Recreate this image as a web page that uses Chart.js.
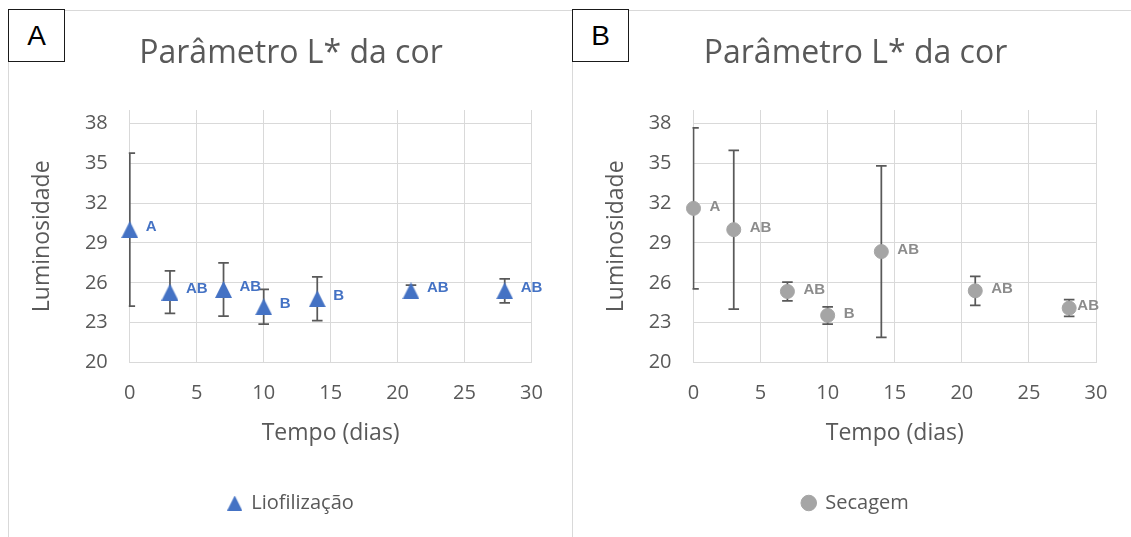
<!DOCTYPE html>
<html><head><meta charset="utf-8">
<script src="https://cdn.jsdelivr.net/npm/chart.js@4.4.0/dist/chart.umd.min.js"></script>
<style>
html,body{margin:0;padding:0;background:#fff;width:1131px;height:537px;overflow:hidden;font-family:'Open Sans',sans-serif;}
.frame{position:absolute;border-left:1px solid #d9d9d9;border-top:1px solid #d9d9d9;}
.tag{position:absolute;background:#fff;border:1px solid #1a1a1a;box-sizing:border-box;font-family:'Liberation Sans',Arial,sans-serif;font-size:28px;color:#000;display:flex;align-items:center;justify-content:center;}
.wrap{position:absolute;top:0;height:537px;}
canvas{display:block;}
</style></head><body>
<div class="frame" style="left:8px;top:10px;width:564px;height:600px"></div>
<div class="frame" style="left:572px;top:10px;width:600px;height:600px"></div>
<div class="wrap" style="left:0;width:582px"><canvas id="cA" width="582" height="537"></canvas></div>
<div class="wrap" style="left:580px;width:551px"><canvas id="cB" width="551" height="537"></canvas></div>
<div class="tag" style="left:8px;top:9px;width:57px;height:53px">A</div>
<div class="tag" style="left:572px;top:9px;width:57px;height:53px">B</div>
<script>
// ---- data ----
const days = [0, 3, 7, 10, 14, 21, 28];
const liofMean = [30.0, 25.3, 25.5, 24.2, 24.8, 25.4, 25.4];
const liofErr = [5.75, 1.6, 2.0, 1.3, 1.65, 0.42, 0.9];
const liofLetters = ['A', 'AB', 'AB', 'B', 'B', 'AB', 'AB'];
const secMean = [31.6, 30.0, 25.35, 23.55, 28.35, 25.4, 24.1];
const secErr = [6.05, 5.97, 0.7, 0.65, 6.45, 1.09, 0.63];
const secLetters = ['A', 'AB', 'AB', 'B', 'AB', 'AB', 'AB'];
const xTicks = [0, 5, 10, 15, 20, 25, 30];
const yTicks = [20, 23, 26, 29, 32, 35, 38];
const chartTitle = 'Parâmetro L* da cor';
const xTitle = 'Tempo (dias)';
const yTitle = 'Luminosidade';
const seriesA = 'Liofilização';
const seriesB = 'Secagem';

Chart.defaults.devicePixelRatio = 1;
const TXT = '#595959', GRID = '#d9d9d9', FONT = "'Open Sans', sans-serif";

function triangleImg(w, h, color) {
  const c = document.createElement('canvas');
  c.width = w; c.height = h;
  const g = c.getContext('2d');
  g.fillStyle = color;
  g.beginPath(); g.moveTo(w / 2, 0); g.lineTo(w, h); g.lineTo(0, h); g.closePath(); g.fill();
  return c;
}

const annot = {
  id: 'annot',
  beforeDatasetsDraw(chart) {
    const {ctx, chartArea: a, scales: {x, y}} = chart;
    ctx.save();
    ctx.beginPath(); ctx.rect(a.left - 1, 0, a.right - a.left + 2, chart.height); ctx.clip();
    ctx.strokeStyle = '#595959'; ctx.lineWidth = 1.75;
    chart.data.datasets.forEach(ds => {
      ds.data.forEach((p, i) => {
        const e = ds.errors[i];
        const px = x.getPixelForValue(p.x), t = y.getPixelForValue(p.y + e), b = y.getPixelForValue(p.y - e);
        ctx.beginPath();
        ctx.moveTo(px, t); ctx.lineTo(px, b);
        ctx.moveTo(px - 5.3, t); ctx.lineTo(px + 5.3, t);
        ctx.moveTo(px - 5.3, b); ctx.lineTo(px + 5.3, b);
        ctx.stroke();
      });
    });
    ctx.restore();
  },
  afterDatasetsDraw(chart, args, opts) {
    const {ctx, chartArea: a, scales: {x, y}} = chart;
    ctx.save();
    ctx.font = "bold 15px 'Liberation Sans', Arial, sans-serif";
    ctx.textBaseline = 'middle'; ctx.textAlign = 'left';
    chart.data.datasets.forEach(ds => {
      ctx.fillStyle = ds.labelColor;
      ds.data.forEach((p, i) => {
        const s = ds.letters[i];
        const w = ctx.measureText(s).width;
        let lx = x.getPixelForValue(p.x) + 16;
        if (opts.maxOverflow != null && lx + w > a.right + opts.maxOverflow) lx = a.right + opts.maxOverflow - w;
        ctx.fillText(s, lx, y.getPixelForValue(p.y) + opts.dy);
      });
    });
    ctx.restore();
  }
};

function makeChart(id, cfg) {
  return new Chart(document.getElementById(id), {
    type: 'scatter',
    data: {datasets: [cfg.dataset]},
    plugins: [annot],
    options: {
      responsive: false, animation: false,
      layout: {padding: {left: 0, right: 0, top: 0, bottom: 14}},
      plugins: {
        title: {display: true, text: chartTitle, color: TXT, font: {family: FONT, size: 32, weight: 'normal'}, padding: {top: 35.1, bottom: 36.5}},
        legend: {display: true, position: 'bottom', labels: {usePointStyle: true, pointStyle: cfg.legendStyle, boxWidth: 13, boxHeight: 11, padding: 10, color: TXT, font: {family: FONT, size: 20}}},
        tooltip: {enabled: false},
        annot: {maxOverflow: cfg.maxOverflow, dy: cfg.labelDy}
      },
      scales: {
        x: {
          type: 'linear', min: 0, max: 30,
          afterBuildTicks(s) { s.ticks = xTicks.map(v => ({value: v})); },
          afterFit(s) { s.height = s.chart.height - 14 - s.chart.legend.height - 362.6; },
          grid: {color: GRID, lineWidth: 1, drawTicks: false},
          border: {display: true, color: GRID, width: 1},
          ticks: {color: TXT, font: {family: FONT, size: 20}, padding: 19},
          title: {display: true, text: xTitle, color: TXT, font: {family: FONT, size: 23}, padding: {top: 0, bottom: 36}}
        },
        y: {
          type: 'linear', min: 20, max: 39,
          afterBuildTicks(s) { s.ticks = yTicks.map(v => ({value: v})); },
          afterFit(s) { s.width = cfg.yWidth; },
          grid: {color: GRID, lineWidth: 1, drawTicks: false},
          border: {display: true, color: GRID, width: 1},
          ticks: {color: TXT, font: {family: FONT, size: 20}, padding: 22},
          title: {display: true, text: yTitle, color: TXT, font: {family: FONT, size: 23}, padding: {top: cfg.yTitlePad, bottom: 0}}
        },
        yRight: {
          type: 'linear', position: 'right', display: true,
          afterFit(s) { s.width = cfg.rightWidth; },
          grid: {display: false, drawTicks: false}, border: {display: false}, ticks: {display: false}
        }
      }
    }
  });
}

makeChart('cA', {
  dataset: {
    label: seriesA,
    data: days.map((d, i) => ({x: d, y: liofMean[i]})),
    errors: liofErr, letters: liofLetters, labelColor: '#4472C4',
    pointStyle: triangleImg(17, 17, '#4472C4'),
    backgroundColor: '#4472C4', borderColor: '#4472C4', clip: false
  },
  legendStyle: triangleImg(15, 15, '#4472C4'),
  yWidth: 129.8, rightWidth: 50.5, yTitlePad: 29, maxOverflow: null, labelDy: -3
});

makeChart('cB', {
  dataset: {
    label: seriesB,
    data: days.map((d, i) => ({x: d, y: secMean[i]})),
    errors: secErr, letters: secLetters, labelColor: '#8c8c8c',
    pointStyle: 'circle', pointRadius: 7, borderWidth: 1,
    backgroundColor: '#A5A5A5', borderColor: '#A5A5A5', clip: false
  },
  legendStyle: 'circle',
  yWidth: 113.5, rightWidth: 35, yTitlePad: 22.7, maxOverflow: 3, labelDy: -2
});
</script>
</body></html>
